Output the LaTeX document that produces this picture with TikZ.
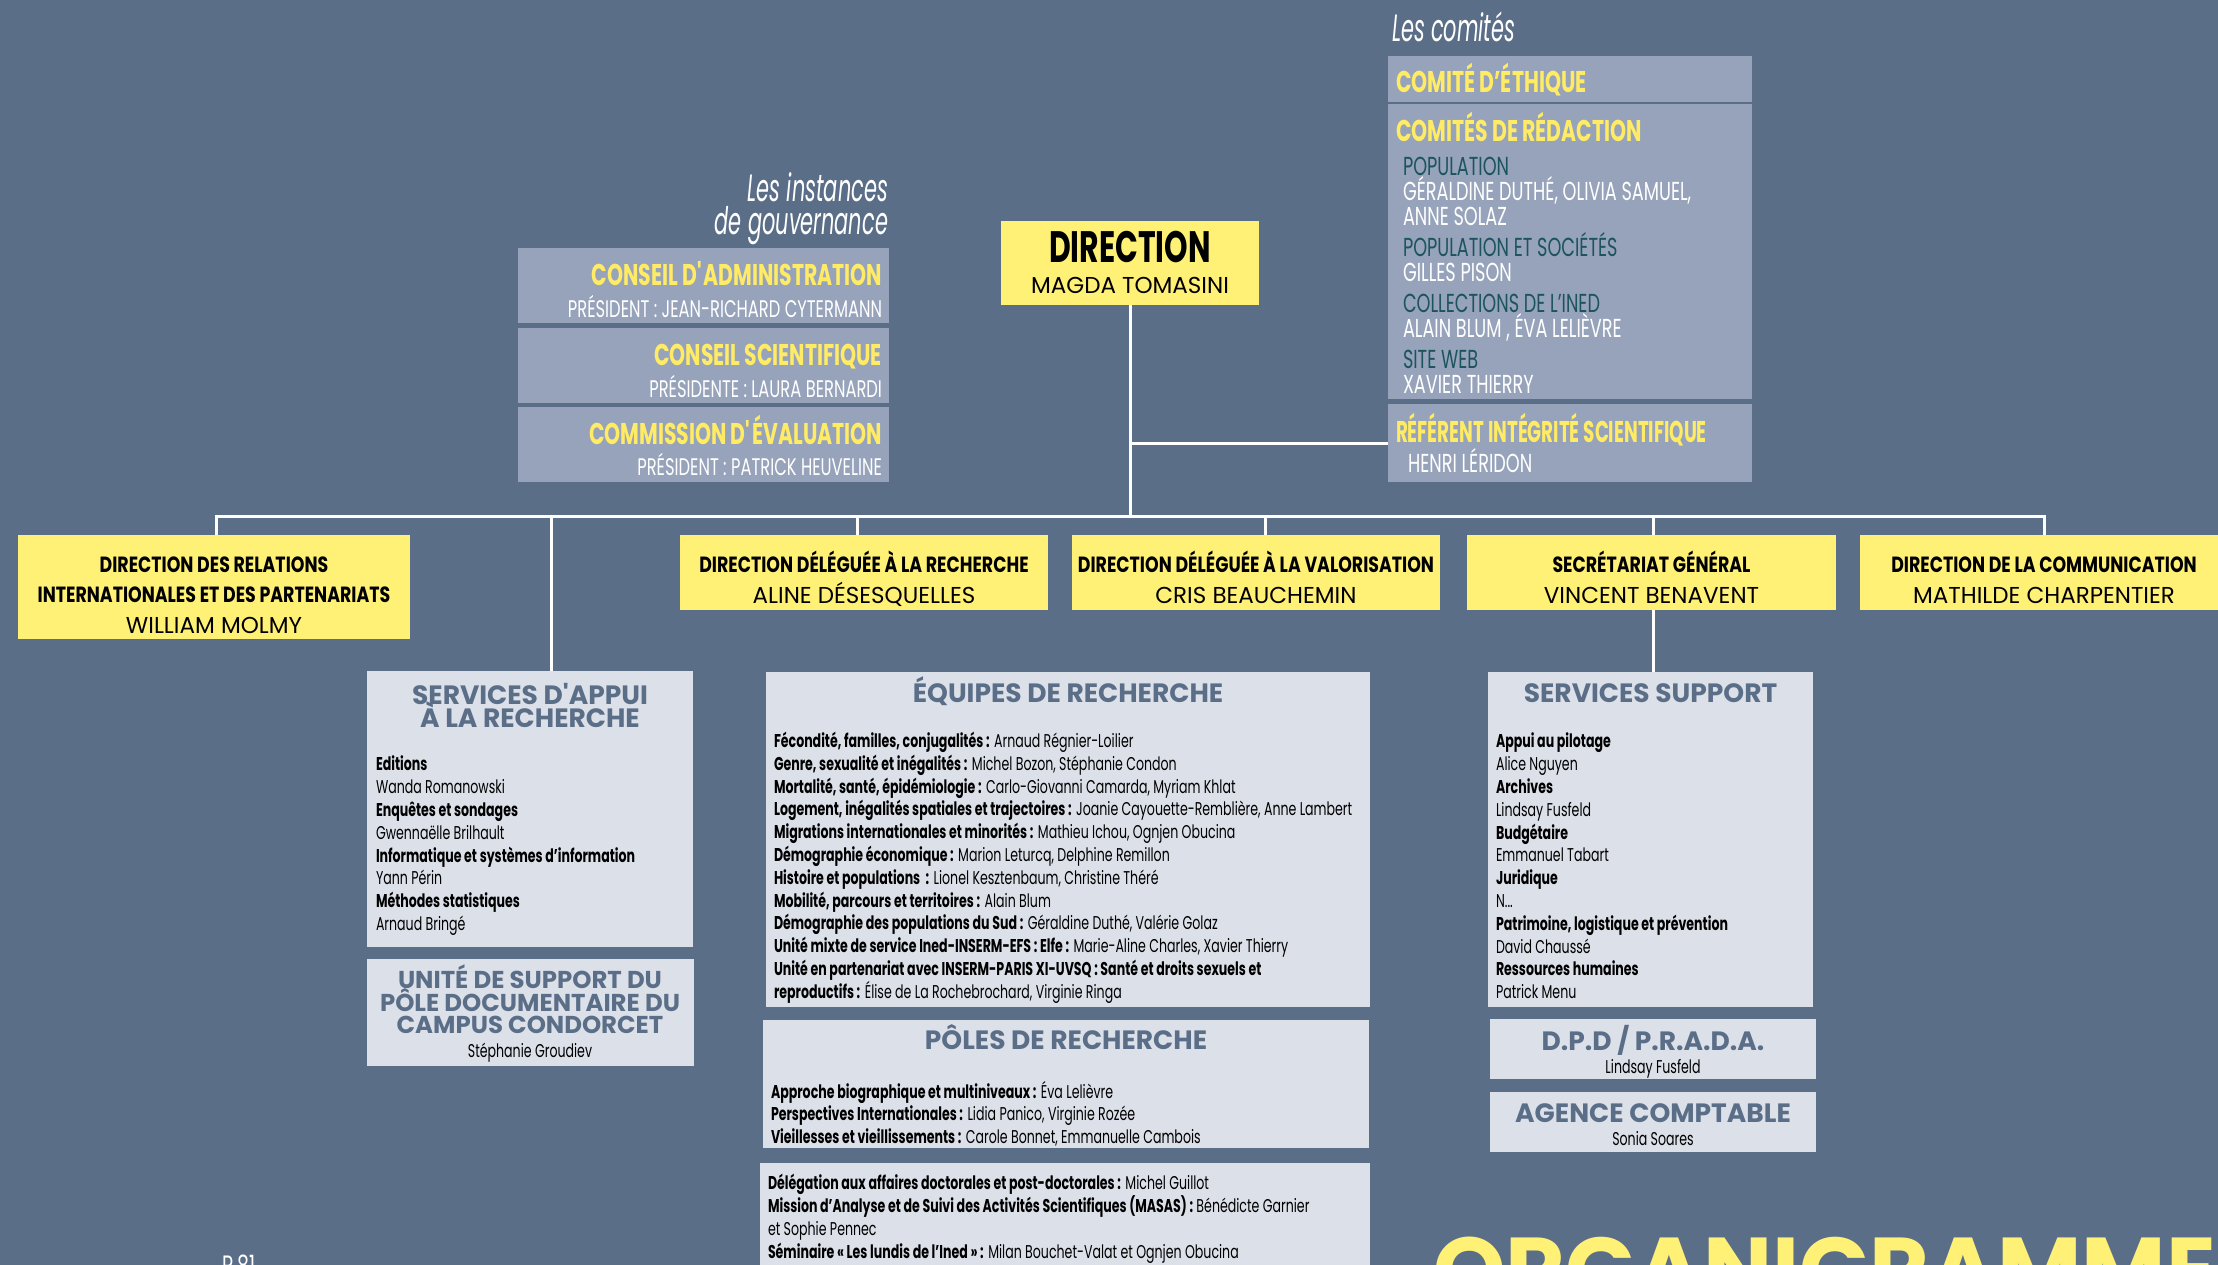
\documentclass[tikz,border=0pt]{standalone}
\usepackage{fontspec}
\usetikzlibrary{positioning}
\setmainfont{Poppins}
\newfontfamily\ifont[FakeStretch=0.55]{Poppins}
\newfontfamily\rfont[FakeStretch=0.61]{Poppins}
\newfontfamily\cfont[FakeStretch=0.68]{Poppins}
\newfontfamily\dfont[FakeStretch=0.79]{Poppins}
\newcommand{\fsz}[2]{\fontsize{#1}{#2}\selectfont\lineskiplimit=-50pt\relax}
\definecolor{slate}{RGB}{91,110,136}
\definecolor{govblue}{RGB}{150,163,186}
\definecolor{paleblue}{RGB}{220,224,233}
\definecolor{lemon}{RGB}{255,241,118}
\definecolor{gold}{RGB}{255,236,100}
\definecolor{petrol}{RGB}{28,84,92}

\begin{document}
\begin{tikzpicture}[x=1pt,y=-1pt,
  every node/.style={inner sep=0pt,outer sep=0pt},
  dims/.style 2 args={minimum width=#1pt,minimum height=#2pt},
  ybox/.style={fill=lemon,anchor=north west},
  gbox/.style={fill=govblue,anchor=north west},
  pbox/.style={fill=paleblue,anchor=north west},
  link/.style={draw=white,line width=3pt},
  intro/.style={text=white,font=\ifont\itshape\fsz{38}{33}},
  gtitle/.style={text=gold,font=\cfont\bfseries\fsz{30}{30}},
  gname/.style={text=white,font=\cfont\fsz{24}{25}},
  csub/.style={text=white,font=\cfont\fsz{26}{25},align=left,anchor=north west},
  dtitle/.style={font=\dfont\bfseries\fsz{22}{30},anchor=base},
  dname/.style={font=\fsz{23}{25},anchor=base},
  phead/.style={text=slate,font=\bfseries\fsz{26.5}{22.5},align=center,anchor=base},
  plist/.style={font=\cfont\fsz{18.5}{22.8},align=left,anchor=north west},
  pname/.style={font=\cfont\fsz{18.5}{22.8},anchor=base}]
\useasboundingbox (0,0) rectangle (2218,1265);
\clip (0,0) rectangle (2218,1265);
\fill[slate] (0,0) rectangle (2218,1265);

\node[intro,align=right,anchor=north east] (inst) at (888,173) {Les instances\\de gouvernance};
\node[gbox,dims={371}{75}] (ca) at (518,248) {};
\node[gbox,dims={371}{75},below=5pt of ca] (cs) {};
\node[gbox,dims={371}{75},below=4pt of cs] (ce) {};
\node[gtitle,anchor=base east] (cat) at ([xshift=-7pt,yshift=-37pt]ca.north east) {CONSEIL D\textquotesingle ADMINISTRATION};
\node[gname,anchor=base east] (can) at ([xshift=-7pt,yshift=-69pt]ca.north east) {PRÉSIDENT : JEAN-RICHARD CYTERMANN};
\node[gtitle,anchor=base east] (cst) at ([xshift=-7pt,yshift=-37pt]cs.north east) {CONSEIL SCIENTIFIQUE};
\node[gname,anchor=base east] (csn) at ([xshift=-7pt,yshift=-69pt]cs.north east) {PRÉSIDENTE : LAURA BERNARDI};
\node[gtitle,anchor=base east] (cet) at ([xshift=-7pt,yshift=-37pt]ce.north east) {COMMISSION D\textquotesingle ÉVALUATION};
\node[gname,anchor=base east] (cen) at ([xshift=-7pt,yshift=-68pt]ce.north east) {PRÉSIDENT : PATRICK HEUVELINE};

\node[intro,anchor=base west] (comt) at (1392,42) {Les comités};
\node[gbox,dims={364}{46}] (eth) at (1388,56) {};
\node[gbox,dims={364}{295},below=2pt of eth] (red) {};
\node[gbox,dims={364}{78},below=5pt of red] (ref) {};
\node[gtitle,anchor=base west] (etht) at ([xshift=8pt,yshift=-37pt]eth.north west) {COMITÉ D’ÉTHIQUE};
\node[gtitle,anchor=base west] (redt) at ([xshift=8pt,yshift=-38pt]red.north west) {COMITÉS DE RÉDACTION};
\node[csub] (redl) at ([xshift=15pt,yshift=-53pt]red.north west) {{\color{petrol}POPULATION}\\GÉRALDINE DUTHÉ, OLIVIA SAMUEL,\\ANNE SOLAZ\\[6pt]{\color{petrol}POPULATION ET SOCIÉTÉS}\\GILLES PISON\\[6pt]{\color{petrol}COLLECTIONS DE L’INED}\\ALAIN BLUM , ÉVA LELIÈVRE\\[6pt]{\color{petrol}SITE WEB}\\XAVIER THIERRY};
\node[gtitle,font=\rfont\bfseries\fsz{30}{30},anchor=base west] (reft) at ([xshift=8pt,yshift=-38pt]ref.north west) {RÉFÉRENT INTÉGRITÉ SCIENTIFIQUE};
\node[csub,anchor=base west] (refn) at ([xshift=20pt,yshift=-68pt]ref.north west) {HENRI LÉRIDON};

\node[ybox,dims={258}{84}] (dir) at (1001,221) {};
\node[font=\cfont\bfseries\fsz{44}{45},anchor=base] (dirt) at ([yshift=-41pt]dir.north) {DIRECTION};
\node[dname] (dirn) at ([yshift=-72pt]dir.north) {MAGDA TOMASINI};

\node[ybox,dims={392}{104}] (dri) at (18,535) {};
\node[dtitle] (drit1) at ([yshift=-37pt]dri.north) {DIRECTION DES RELATIONS};
\node[dtitle] (drit2) at ([yshift=-67pt]dri.north) {INTERNATIONALES ET DES PARTENARIATS};
\node[dname] (drin) at ([yshift=-98pt]dri.north) {WILLIAM MOLMY};
\node[ybox,dims={368}{75}] (ddr) at (680,535) {};
\node[dtitle] (ddrt) at ([yshift=-37pt]ddr.north) {DIRECTION DÉLÉGUÉE À LA RECHERCHE};
\node[dname] (ddrn) at ([yshift=-68pt]ddr.north) {ALINE DÉSESQUELLES};
\node[ybox,dims={368}{75},right=24pt of ddr] (ddv) {};
\node[dtitle] (ddvt) at ([yshift=-37pt]ddv.north) {DIRECTION DÉLÉGUÉE À LA VALORISATION};
\node[dname] (ddvn) at ([yshift=-68pt]ddv.north) {CRIS BEAUCHEMIN};
\node[ybox,dims={369}{75},right=27pt of ddv] (sg) {};
\node[dtitle] (sgt) at ([yshift=-37pt]sg.north) {SECRÉTARIAT GÉNÉRAL};
\node[dname] (sgn) at ([yshift=-68pt]sg.north) {VINCENT BENAVENT};
\node[ybox,dims={368}{75},right=24pt of sg] (com) {};
\node[dtitle] (comt2) at ([yshift=-37pt]com.north) {DIRECTION DE LA COMMUNICATION};
\node[dname] (comn) at ([yshift=-68pt]com.north) {MATHILDE CHARPENTIER};

\node[pbox,dims={326}{276}] (appui) at (367,671) {};
\node[phead,anchor=north] (appuih) at ([yshift=-12.5pt]appui.north) {SERVICES D\textquotesingle APPUI\\À LA RECHERCHE};
\node[plist] (appuil) at (376,756) {\textbf{Editions}\\Wanda Romanowski\\\textbf{Enquêtes et sondages}\\Gwennaëlle Brilhault\\\textbf{Informatique et systèmes d’information}\\Yann Périn\\\textbf{Méthodes statistiques}\\Arnaud Bringé};
\node[pbox,dims={327}{107},below=12pt of appui] (unite) {};
\node[phead,anchor=north,font=\bfseries\fsz{24.4}{22.5}] (uniteh) at ([yshift=-6pt]unite.north) {UNITÉ DE SUPPORT DU\\PÔLE DOCUMENTAIRE DU\\CAMPUS CONDORCET};
\node[pname] (uniten) at ([yshift=-98pt]unite.north) {Stéphanie Groudiev};

\node[pbox,dims={604}{335}] (equipes) at (766,672) {};
\node[phead] (equipesh) at ([yshift=-30pt]equipes.north) {ÉQUIPES DE RECHERCHE};
\node[plist] (equipesl) at (774,732) {\textbf{Fécondité, familles, conjugalités :} Arnaud Régnier-Loilier\\
\textbf{Genre, sexualité et inégalités :} Michel Bozon, Stéphanie Condon\\
\textbf{Mortalité, santé, épidémiologie :} Carlo-Giovanni Camarda, Myriam Khlat\\
\textbf{Logement, inégalités spatiales et trajectoires :} Joanie Cayouette-Remblière, Anne Lambert\\
\textbf{Migrations internationales et minorités :} Mathieu Ichou, Ognjen Obucina\\
\textbf{Démographie économique :} Marion Leturcq, Delphine Remillon\\
\textbf{Histoire et populations~ :} Lionel Kesztenbaum, Christine Théré\\
\textbf{Mobilité, parcours et territoires :} Alain Blum\\
\textbf{Démographie des populations du Sud :} Géraldine Duthé, Valérie Golaz\\
\textbf{Unité mixte de service Ined-INSERM-EFS : Elfe :} Marie-Aline Charles, Xavier Thierry\\
\textbf{Unité en partenariat avec INSERM-PARIS XI-UVSQ : Santé et droits sexuels et}\\
\textbf{reproductifs :} Élise de La Rochebrochard, Virginie Ringa};
\node[pbox,dims={606}{128}] (poles) at (763,1020) {};
\node[phead] (polesh) at ([yshift=-29pt]poles.north) {PÔLES DE RECHERCHE};
\node[plist] (polesl) at (771,1081) {\textbf{Approche biographique et multiniveaux :} Éva Lelièvre\\
\textbf{Perspectives Internationales :} Lidia Panico, Virginie Rozée\\
\textbf{Vieillesses et vieillissements :} Carole Bonnet, Emmanuelle Cambois};
\node[pbox,dims={610}{130}] (deleg) at (760,1163) {};
\node[plist] (delegl) at (768,1174.5) {\textbf{Délégation aux affaires doctorales et post-doctorales :} Michel Guillot\\
\textbf{Mission d’Analyse et de Suivi des Activités Scientifiques (MASAS) :} Bénédicte Garnier\\
et Sophie Pennec\\
\textbf{Séminaire « Les lundis de l’Ined » :} Milan Bouchet-Valat et Ognjen Obucina};

\node[pbox,dims={325}{335}] (support) at (1488,672) {};
\node[phead] (supporth) at ([yshift=-30pt]support.north) {SERVICES SUPPORT};
\node[plist] (supportl) at (1496,733) {\textbf{Appui au pilotage}\\Alice Nguyen\\\textbf{Archives}\\Lindsay Fusfeld\\\textbf{Budgétaire}\\Emmanuel Tabart\\\textbf{Juridique}\\N...\\\textbf{Patrimoine, logistique et prévention}\\David Chaussé\\\textbf{Ressources humaines}\\Patrick Menu};
\node[pbox,dims={326}{60}] (dpd) at (1490,1019) {};
\node[phead] (dpdh) at ([yshift=-31pt]dpd.north) {D.P.D / P.R.A.D.A.};
\node[pname] (dpdn) at ([yshift=-54pt]dpd.north) {Lindsay Fusfeld};
\node[pbox,dims={326}{60},below=13pt of dpd] (agence) {};
\node[phead] (agenceh) at ([yshift=-30pt]agence.north) {AGENCE COMPTABLE};
\node[pname] (agencen) at ([yshift=-53pt]agence.north) {Sonia Soares};

\coordinate (b1) at (216,516);
\coordinate (b2) at (551,516);
\coordinate (b3) at (857,516);
\coordinate (b4) at (1265,516);
\coordinate (b5) at (1653,516);
\coordinate (b6) at (2044,516);
\draw[link] (dir.south) -- (dir.south |- b1);
\draw[link] (dir.south |- ref.west) -- (ref.west);
\draw[link] (b1 |- dri.north) -- (b1) -- (b6) -- (b6 |- com.north);
\draw[link] (b2) -- (b2 |- appui.north);
\draw[link] (b3) -- (b3 |- ddr.north);
\draw[link] (b4) -- (b4 |- ddv.north);
\draw[link] (b5) -- (b5 |- sg.north);
\draw[link] (b5 |- sg.south) -- (b5 |- support.north);

\node[font=\cfont\fsz{28}{28},text=white,anchor=base west] (page) at (222,1275) {P.81};
\node[font=\fontsize{92}{92}\selectfont\bfseries,text=lemon,anchor=base west] (orga) at (1433,1302) {ORGANIGRAMME};
\end{tikzpicture}
\end{document}
